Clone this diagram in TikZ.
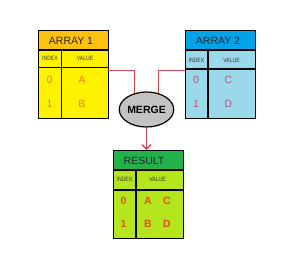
\documentclass[tikz,border=0pt]{standalone}
\usepackage{fontspec}
\setmainfont{Liberation Sans}
\usetikzlibrary{shapes.geometric,arrows.meta}
\definecolor{hdrorange}{HTML}{FFC20E}
\definecolor{bodyyellow}{HTML}{FFF200}
\definecolor{hdrblue}{HTML}{00A2E8}
\definecolor{bodyblue}{HTML}{99D9EA}
\definecolor{hdrgreen}{HTML}{22B14C}
\definecolor{bodylime}{HTML}{B5E61D}
\definecolor{mergegray}{HTML}{C3C3C3}
\definecolor{connred}{HTML}{D04A5A}
\definecolor{txtorange}{HTML}{E8801E}
\definecolor{txtpink}{HTML}{C0507A}
\definecolor{txtred}{HTML}{E0501A}
\tikzset{
  frame/.style={draw=black,line width=1.4pt},
  grid/.style={draw=black,line width=1.2pt},
  hdrtxt/.style={font=\fontsize{10.5}{10.5}\selectfont,text=black!85,inner sep=0pt},
  subtxt/.style={font=\fontsize{6.2}{6.2}\selectfont,text=black!80,inner sep=0pt,xscale=0.82},
  datatxt/.style={font=\fontsize{10.5}{10.5}\selectfont,inner sep=0pt},
  boldtxt/.style={datatxt,text=txtred,font=\fontsize{10.5}{10.5}\selectfont\bfseries},
  conn/.style={draw=connred,line width=1.3pt},
}
\begin{document}
\begin{tikzpicture}[x=1pt,y=-1pt]
\useasboundingbox[fill=white] (0,0) rectangle (300,265);
% ---------- ARRAY 1 ----------
\fill[hdrorange] (38,30) rectangle (108,50);
\fill[bodyyellow] (38,50) rectangle (108,117.5);
\draw[grid] (38,50) -- (108,50) (38,67.5) -- (108,67.5) (61.7,50) -- (61.7,117.5);
\node[frame,anchor=north west,minimum width=70pt,minimum height=87.5pt,inner sep=0pt] (arr1) at (38,30) {};
\node[hdrtxt] (a1h) at (71,40.5) {ARRAY 1};
\node[subtxt] (a1i) at (50,58.7) {INDEX};
\node[subtxt] (a1v) at (85,58.7) {VALUE};
\node[datatxt,text=txtorange] (a1r0i) at (49.5,80) {0};
\node[datatxt,text=txtorange] (a1r0v) at (82,80) {A};
\node[datatxt,text=txtorange] (a1r1i) at (49.5,104) {1};
\node[datatxt,text=txtorange] (a1r1v) at (82,104) {B};
% ---------- ARRAY 2 ----------
\fill[hdrblue] (185,30) rectangle (255,50);
\fill[bodyblue] (185,50) rectangle (255,118);
\draw[grid] (185,50) -- (255,50) (185,69) -- (255,69) (208,50) -- (208,118);
\node[frame,anchor=north west,minimum width=70pt,minimum height=88pt,inner sep=0pt] (arr2) at (185,30) {};
\node[hdrtxt] (a2h) at (218,40.5) {ARRAY 2};
\node[subtxt] (a2i) at (196.5,60) {INDEX};
\node[subtxt] (a2v) at (231.5,60) {VALUE};
\node[datatxt,text=txtpink] (a2r0i) at (196,80) {0};
\node[datatxt,text=txtpink] (a2r0v) at (228.5,80) {C};
\node[datatxt,text=txtpink] (a2r1i) at (196,104) {1};
\node[datatxt,text=txtpink] (a2r1v) at (228.5,104) {D};
% ---------- RESULT ----------
\fill[hdrgreen] (113,150) rectangle (183,170);
\fill[bodylime] (113,170) rectangle (183,238);
\draw[grid] (113,170) -- (183,170) (113,190) -- (183,190) (136,170) -- (136,238);
\node[frame,anchor=north west,minimum width=70pt,minimum height=88pt,inner sep=0pt] (res) at (113,150) {};
\node[hdrtxt] (rh) at (144,160.5) {RESULT};
\node[subtxt] (ri) at (124.5,179) {INDEX};
\node[subtxt] (rv) at (157.5,179) {VALUE};
\node[boldtxt] (rr0i) at (123.5,201) {0};
\node[boldtxt] (rr0a) at (148,201) {A};
\node[boldtxt] (rr0c) at (167,201) {C};
\node[boldtxt] (rr1i) at (123.5,224) {1};
\node[boldtxt] (rr1b) at (148,224) {B};
\node[boldtxt] (rr1d) at (167,224) {D};
% ---------- MERGE ----------
\node[ellipse,draw=black,line width=1.2pt,fill=mergegray,minimum width=51pt,minimum height=35pt,inner sep=0pt,
      font=\fontsize{10.5}{10.5}\selectfont\bfseries] (merge) at (146.5,109.5) {MERGE};
% ---------- connectors ----------
\coordinate (c1) at (108,70.7);
\coordinate (c2) at (185,70.7);
\draw[conn] (c1) -| (merge.126);
\draw[conn] (c2) -| (merge.54);
\draw[conn,-{Straight Barb[length=4.5pt,width=9pt]}] (merge.south) -- (merge.south |- res.north);
\end{tikzpicture}
\end{document}
